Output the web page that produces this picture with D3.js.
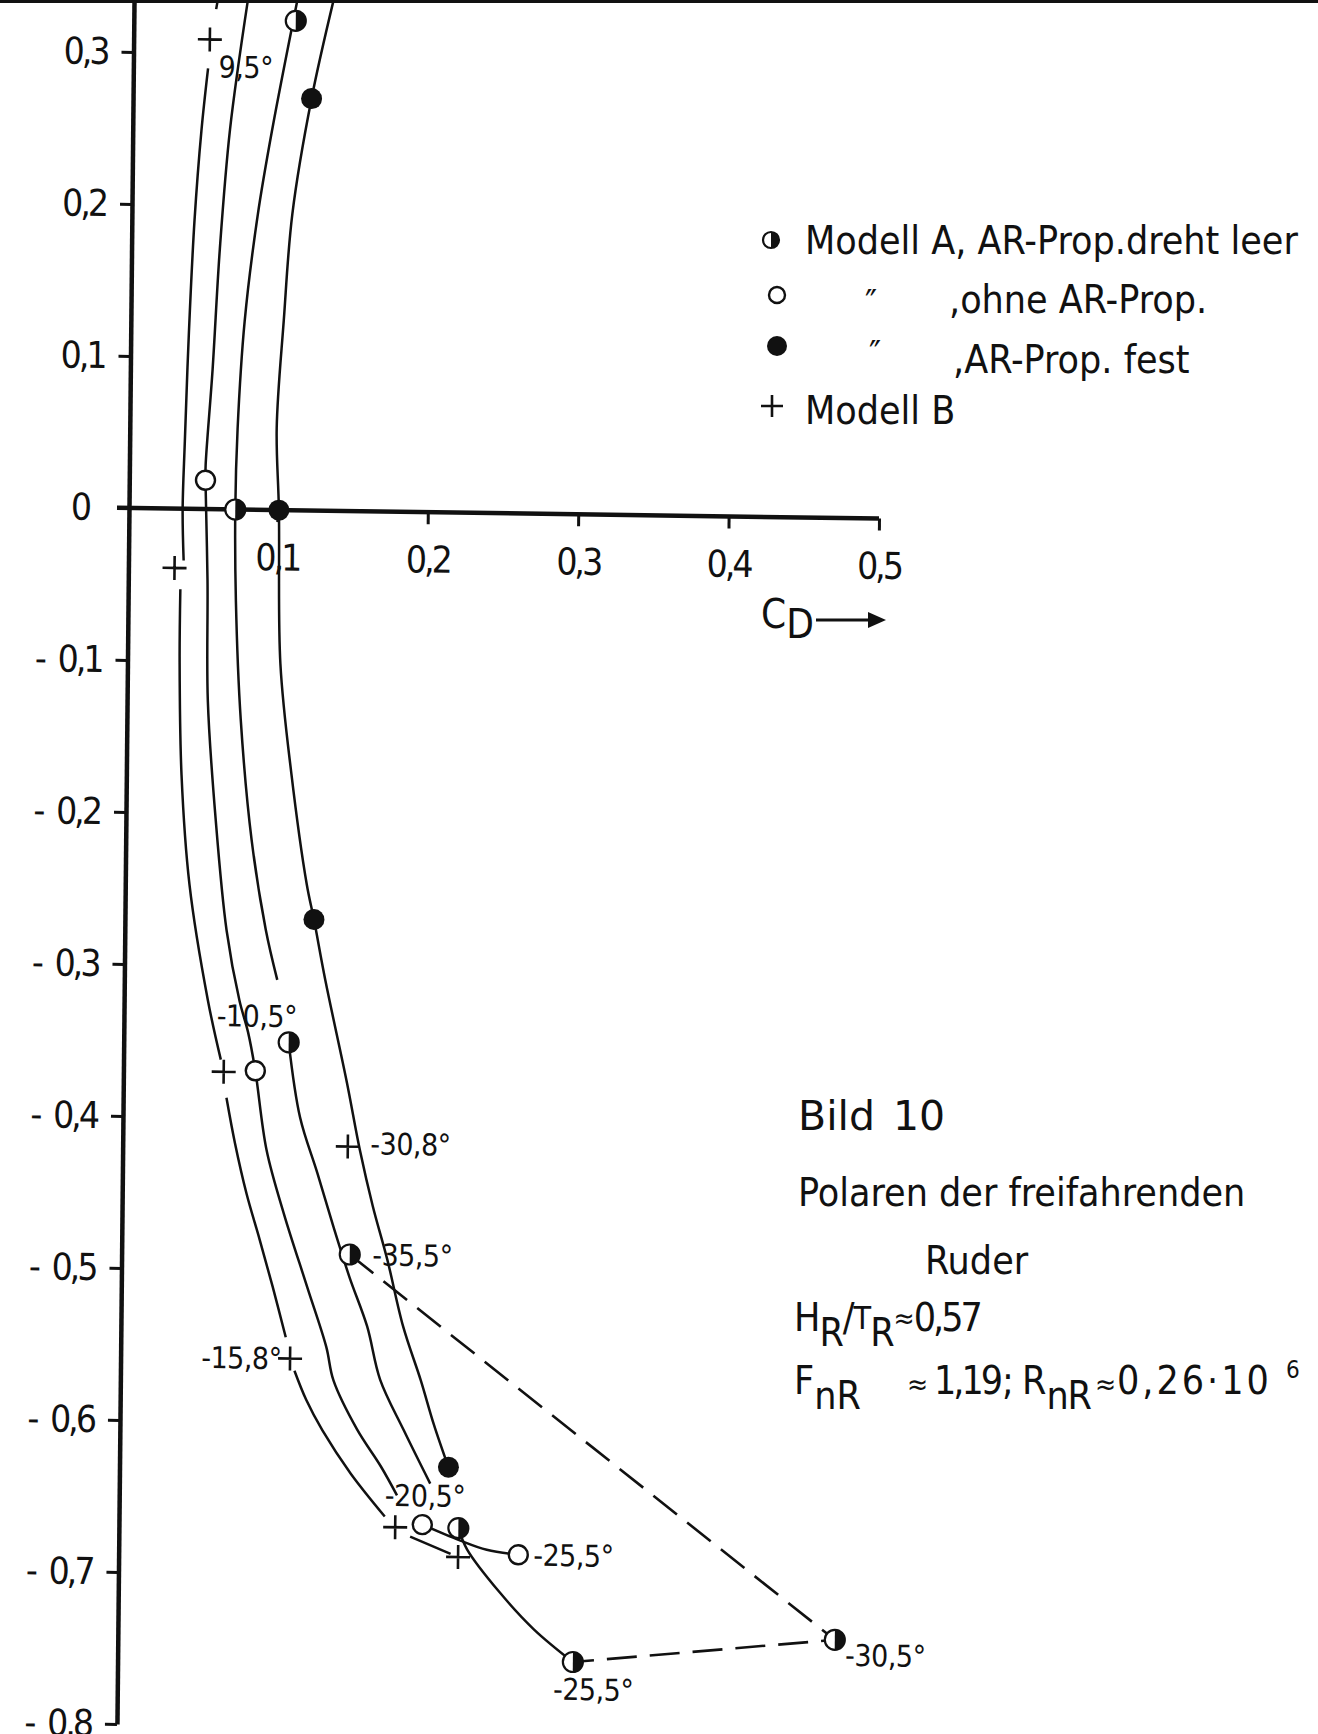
<!DOCTYPE html>
<html>
<head>
<meta charset="utf-8">
<script src="https://cdn.jsdelivr.net/npm/d3@7"></script>
<style>
  html, body { margin: 0; padding: 0; background: #fff; }
  svg { display: block; }
  text { font-family: "DejaVu Sans Condensed", "DejaVu Sans", sans-serif; fill: #111; }
</style>
</head>
<body>
<svg id="chart" width="1318" height="1734"></svg>
<script>
// ---- data (C_D, C_L) ----

var xTicks = [0.1, 0.2, 0.3, 0.4, 0.5];
var yTicks = [0.3, 0.2, 0.1, 0, -0.1, -0.2, -0.3, -0.4, -0.5, -0.6, -0.7, -0.8];

// Modell B (+), null = break in the drawn line
var curveB = [[0.057,0.335],[0.056,0.329], null,
  [0.051,0.290],[0.047,0.249],[0.043,0.190],[0.040,0.116],[0.038,0.044],[0.037,-0.001],[0.038,-0.034], null,
  [0.036,-0.053],[0.036,-0.101],[0.038,-0.175],[0.044,-0.247],[0.057,-0.323],[0.066,-0.362], null,
  [0.070,-0.387],[0.076,-0.417],[0.084,-0.450],[0.093,-0.480],[0.102,-0.511],[0.111,-0.544], null,
  [0.117,-0.566],[0.125,-0.585],[0.136,-0.605],[0.155,-0.633],[0.178,-0.661], null,
  [0.195,-0.674],[0.222,-0.685]];
var pointsB = [[0.052,0.309],[0.032,-0.039],[0.068,-0.370],[0.114,-0.558],[0.185,-0.668],[0.227,-0.687],[0.151,-0.418]];

// Modell A, ohne AR-Prop. (open circles)
var curveOpen = [[0.077,0.335],[0.066,0.250],[0.060,0.171],[0.056,0.092],[0.052,0.029],[0.052,0.019],
  [0.054,-0.047],[0.055,-0.126],[0.061,-0.204],[0.069,-0.277],[0.078,-0.323],[0.084,-0.344],[0.089,-0.369],
  [0.097,-0.421],[0.109,-0.463],[0.125,-0.511],[0.138,-0.550],[0.143,-0.572],[0.159,-0.604],[0.175,-0.628],[0.186,-0.647], null,
  [0.203,-0.666],[0.228,-0.676],[0.246,-0.682],[0.267,-0.685]];
var pointsOpen = [[0.052,0.019],[0.089,-0.369],[0.203,-0.666],[0.267,-0.685]];

// Modell A, AR-Prop. dreht leer (half filled)
var curveHalf = [[0.110,0.336],[0.094,0.250],[0.085,0.194],[0.077,0.124],[0.073,0.053],[0.072,0.000],
  [0.073,-0.060],[0.077,-0.138],[0.085,-0.217],[0.095,-0.276],[0.103,-0.309], null,
  [0.111,-0.350],[0.119,-0.399],[0.131,-0.436],[0.142,-0.471],[0.153,-0.504],[0.165,-0.536],[0.174,-0.571],[0.190,-0.604],[0.208,-0.639], null,
  [0.227,-0.668],[0.233,-0.682],[0.255,-0.710],[0.278,-0.734],[0.304,-0.755]];
var pointsHalf = [[0.109,0.322],[0.072,0.000],[0.111,-0.350],[0.153,-0.489],[0.227,-0.668],[0.304,-0.755],[0.478,-0.738]];
var dashedHalf = [[0.153,-0.489],[0.478,-0.738],[0.304,-0.755]];

// Modell A, AR-Prop. fest (filled)
var curveFull = [[0.134,0.336],[0.120,0.271],[0.108,0.195],[0.103,0.125],[0.099,0.054],[0.101,0.000],
  [0.103,-0.101],[0.111,-0.173],[0.122,-0.246],[0.127,-0.269],[0.135,-0.309],[0.150,-0.376],[0.159,-0.420],
  [0.168,-0.457],[0.178,-0.492],[0.189,-0.536],[0.201,-0.571],[0.210,-0.600],[0.220,-0.628]];
var pointsFull = [[0.120,0.271],[0.101,0.000],[0.127,-0.269],[0.220,-0.628]];

// rudder angle annotations (text, C_D, C_L where the text starts)
var angleLabels = [
  ["9,5°", 0.058, 0.284],
  ["-10,5°", 0.063, -0.340],
  ["-30,8°", 0.166, -0.423],
  ["-35,5°", 0.168, -0.496],
  ["-15,8°", 0.055, -0.565],
  ["-20,5°", 0.178, -0.654],
  ["-25,5°", 0.277, -0.692],
  ["-25,5°", 0.291, -0.780],
  ["-30,5°", 0.485, -0.755]
];

var legendLabels = ["Modell A, AR-Prop.dreht leer", ",ohne AR-Prop.", ",AR-Prop. fest", "Modell B"];
var legendSymbols = ["half", "open", "full", "plus"];

// ---- drawing ----

var svg = d3.select("#chart");
var ox = 127, oy = 508;

var x = d3.scaleLinear().domain([0, 0.5]).range([ox, ox + 752]);
var y = d3.scaleLinear().domain([-0.8, 0.35]).range([oy + 1216, oy - 532]);

var fmt = function(v) {
  var s = d3.format(".1f")(Math.abs(v)).replace(".", ",");
  if (v === 0) return "0";
  return v < 0 ? "-\u2002" + s : s;
};

// scan border along the top
svg.append("rect").attr("x", 0).attr("y", 0).attr("width", 1318).attr("height", 3).attr("fill", "#111");

// the scanned sheet is slightly skewed
var plot = svg.append("g")
    .attr("transform", "translate(" + ox + "," + oy + ") matrix(1,0.014,-0.0099,1,0,0) translate(" + (-ox) + "," + (-oy) + ")");

// Y axis
var gy = plot.append("g")
    .attr("transform", "translate(" + (ox + 2) + ",0)")
    .call(d3.axisLeft(y).tickValues(yTicks).tickSize(12).tickSizeOuter(0).tickPadding(14).tickFormat(fmt));
gy.select(".domain").attr("stroke", "#111").attr("stroke-width", 4.5);
gy.selectAll(".tick line").attr("stroke", "#111").attr("stroke-width", 3);
gy.selectAll(".tick text").attr("font-size", 37).attr("fill", "#111").attr("letter-spacing", -3)
    .style("font-family", "'DejaVu Sans Condensed','DejaVu Sans',sans-serif");
gy.selectAll(".tick").filter(function(d) { return d === 0; }).select("text").attr("x", -40);
gy.selectAll(".tick").filter(function(d) { return d === 0; }).select("line").remove();

// X axis
var gx = plot.append("g")
    .attr("transform", "translate(0," + oy + ")")
    .call(d3.axisBottom(x).tickValues(xTicks).tickSize(12).tickSizeOuter(0).tickFormat(fmt));
gx.select(".domain").remove();
gx.append("line").attr("x1", x(0) - 10).attr("x2", x(0.5)).attr("y1", 0).attr("y2", 0)
    .attr("stroke", "#111").attr("stroke-width", 4.5);
gx.selectAll(".tick line").attr("stroke", "#111").attr("stroke-width", 3);
gx.selectAll(".tick text").attr("font-size", 37).attr("fill", "#111").attr("letter-spacing", -3)
    .attr("y", 34).attr("dy", "0.71em")
    .style("font-family", "'DejaVu Sans Condensed','DejaVu Sans',sans-serif");

// curves
var line = d3.line()
    .defined(function(d) { return d !== null; })
    .x(function(d) { return x(d[0]); })
    .y(function(d) { return y(d[1]); })
    .curve(d3.curveCatmullRom.alpha(0.5));

[curveB, curveOpen, curveHalf, curveFull].forEach(function(c) {
  plot.append("path").attr("d", line(c))
      .attr("fill", "none").attr("stroke", "#111").attr("stroke-width", 2.5);
});

plot.append("path").attr("d", d3.line().x(function(d) { return x(d[0]); }).y(function(d) { return y(d[1]); })(dashedHalf))
    .attr("fill", "none").attr("stroke", "#111").attr("stroke-width", 2.6)
    .attr("stroke-dasharray", "30,13");

// marker painters
function drawSymbol(g, kind, r) {
  if (kind === "half") {
    g.append("circle").attr("r", r).attr("fill", "#fff").attr("stroke", "#111").attr("stroke-width", 2.2);
    g.append("path").attr("d", "M0," + (-r) + "A" + r + "," + r + " 0 0 1 0," + r + "Z").attr("fill", "#111");
  } else if (kind === "open") {
    g.append("circle").attr("r", r).attr("fill", "#fff").attr("stroke", "#111").attr("stroke-width", 2.4);
  } else if (kind === "full") {
    g.append("circle").attr("r", r).attr("fill", "#111");
  } else {
    g.append("path").attr("d", "M" + (-r) + ",0H" + r + "M0," + (-r) + "V" + r)
        .attr("stroke", "#111").attr("stroke-width", 2.6).attr("fill", "none");
  }
}

function drawPoints(pts, kind, r) {
  plot.selectAll(null).data(pts).enter().append("g")
      .attr("transform", function(d) { return "translate(" + x(d[0]) + "," + y(d[1]) + ")"; })
      .each(function() { drawSymbol(d3.select(this), kind, r); });
}

drawPoints(pointsB, "plus", 12);
drawPoints(pointsOpen, "open", 9.5);
drawPoints(pointsHalf, "half", 10);
drawPoints(pointsFull, "full", 10.5);

// angle labels
plot.selectAll(null).data(angleLabels).enter().append("text")
    .attr("x", function(d) { return x(d[1]); })
    .attr("y", function(d) { return y(d[2]); })
    .attr("font-size", 30)
    .attr("letter-spacing", -0.5)
    .text(function(d) { return d[0]; });

// axis title C_D ->
var cd = svg.append("text").attr("x", 761).attr("y", 628).attr("font-size", 40);
cd.append("tspan").text("C");
cd.append("tspan").attr("dy", 10).text("D");
svg.append("line").attr("x1", 816).attr("x2", 870).attr("y1", 620).attr("y2", 620)
    .attr("stroke", "#111").attr("stroke-width", 3);
svg.append("path").attr("d", "M868,612L886,620L868,628Z").attr("fill", "#111");

// legend
var legRows = [240, 295, 346, 406];
var legBase = [254, 313, 373, 424];
var legTextX = [805, 949, 953, 805];
var legSymX = [771, 777, 777, 772];
var legR = [8, 8, 10, 11];
legendLabels.forEach(function(t, i) {
  var g = svg.append("g").attr("transform", "translate(" + legSymX[i] + "," + legRows[i] + ")");
  drawSymbol(g, legendSymbols[i], legR[i]);
  svg.append("text").attr("x", legTextX[i]).attr("y", legBase[i]).attr("font-size", 39).text(t);
  if (i === 1 || i === 2) {
    svg.append("text").attr("x", legTextX[i] - 84).attr("y", legRows[i] + 20)
        .attr("font-size", 36).text("\u2033");
  }
});

// caption block
var cap = svg.append("g").attr("font-size", 39);
var bild = cap.append("text").attr("x", 798).attr("y", 1130).attr("font-size", 41)
    .style("font-family", "'DejaVu Sans',sans-serif");
bild.append("tspan").text("Bild");
bild.append("tspan").attr("x", 893).text("10");
cap.append("text").attr("x", 798).attr("y", 1206).text("Polaren der freifahrenden");
cap.append("text").attr("x", 925).attr("y", 1274).text("Ruder");

var t1 = cap.append("text").attr("x", 794).attr("y", 1331).attr("letter-spacing", -1);
t1.append("tspan").text("H");
t1.append("tspan").attr("dy", 15).text("R");
t1.append("tspan").attr("dy", -15).text("/");
t1.append("tspan").attr("dy", -2).attr("font-size", 32).text("T");
t1.append("tspan").attr("dy", 17).text("R");
t1.append("tspan").attr("dy", -18).attr("font-size", 28).text("\u2248");
t1.append("tspan").attr("dy", 3).attr("letter-spacing", -3).text("0,57");

var t2 = cap.append("text").attr("x", 794).attr("y", 1394);
t2.append("tspan").text("F");
t2.append("tspan").attr("dy", 15).text("nR");
t2.append("tspan").attr("x", 907).attr("dy", -15).attr("font-size", 28).text("\u2248");
t2.append("tspan").attr("x", 934).attr("letter-spacing", -3).text("1,19");
t2.append("tspan").attr("x", 1002).text(";");
t2.append("tspan").attr("x", 1022).text("R");
t2.append("tspan").attr("dy", 15).attr("letter-spacing", -1).text("nR");
t2.append("tspan").attr("x", 1095).attr("dy", -15).attr("font-size", 28).text("\u2248");
t2.append("tspan").attr("x", 1117).attr("letter-spacing", 3).text("0,26\u00b710");
t2.append("tspan").attr("x", 1286).attr("dy", -16).attr("font-size", 24).text("6");
</script>
</body>
</html>
